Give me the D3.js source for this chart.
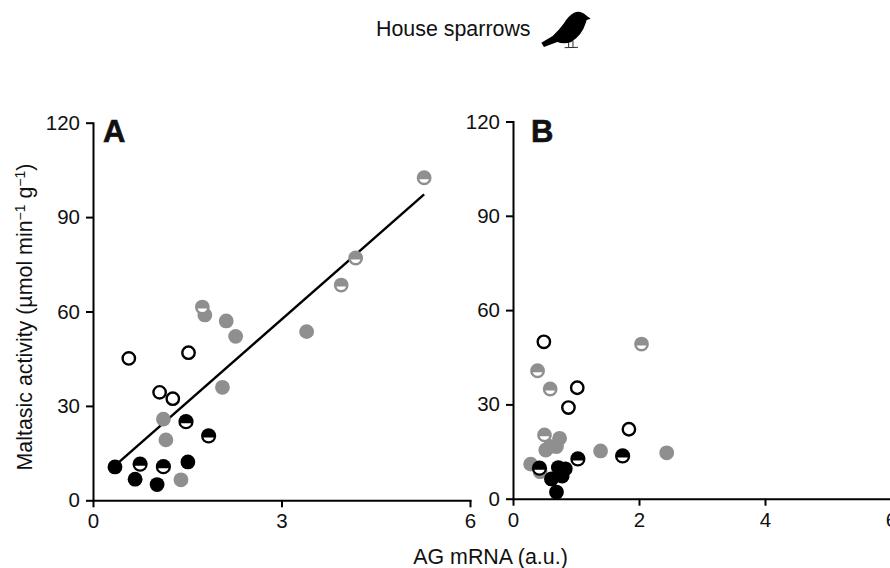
<!DOCTYPE html>
<html>
<head>
<meta charset="utf-8">
<script src="https://cdn.jsdelivr.net/npm/d3@7"></script>
<style>
  html, body { margin: 0; padding: 0; background: #fff; overflow: hidden; }
  text { font-family: "Liberation Sans", Arial, sans-serif; fill: #111; }
</style>
</head>
<body>
<svg id="chart" width="890" height="568"></svg>
<script>
// panel A
const aOpenX = [0.57, 1.52, 1.06, 1.27]
const aOpenY = [45.1, 46.9, 34.3, 32.3]
const aBlackHalfX = [1.48, 1.84, 0.75, 1.12]
const aBlackHalfY = [25.0, 20.5, 11.5, 10.7]
const aBlackX = [0.35, 0.67, 1.02, 1.51]
const aBlackY = [10.6, 6.7, 5.0, 12.2]
const aGreyX = [2.06, 1.12, 1.16, 1.40, 1.78, 2.12, 2.27, 3.40]
const aGreyY = [35.9, 25.8, 19.2, 6.5, 58.9, 57.0, 52.1, 53.6]
const aGreyHalfX = [5.27, 4.18, 3.95, 1.74]
const aGreyHalfY = [102.5, 77.0, 68.4, 61.4]
const aLineX = [0.35, 5.27]
const aLineY = [11.0, 97.2]

// panel B
const bOpenX = [0.49, 1.02, 0.88, 1.84]
const bOpenY = [49.9, 35.3, 29.0, 22.1]
const bBlackHalfX = [0.42, 1.03, 1.74]
const bBlackHalfY = [9.7, 12.7, 13.6]
const bBlackX = [0.69, 0.61, 0.72, 0.83, 0.78]
const bBlackY = [2.1, 6.3, 9.9, 9.5, 7.2]
const bGreyX = [0.74, 0.69, 0.52, 0.59, 0.28, 1.39, 2.44, 0.43]
const bGreyY = [19.2, 16.6, 15.5, 16.6, 11.0, 15.2, 14.6, 8.6]
const bGreyHalfX = [0.39, 0.59, 2.04, 0.50]
const bGreyHalfY = [40.7, 34.9, 49.2, 20.3]

const yTicks = [0, 30, 60, 90, 120]
const aXTicks = [0, 3, 6]
const bXTicks = [0, 2, 4, 6]

const grey = "#8f8f8f"
const fontSize = 20.5
const labelSize = 21.4

const svg = d3.select("#chart")

function zip(xs, ys) {
    return xs.map((x, i) => [x, ys[i]])
}

// white segment at the bottom of the half filled markers
function chord(r) {
    const a = 0.3
    const p = d3.path()
    p.arc(0, 0, r, a, Math.PI - a)
    p.closePath()
    return p.toString()
}

function drawPanel(opts) {
    const g = svg.append("g")
    const x = d3.scaleLinear().domain([0, 6]).range(opts.xRange)
    const y = d3.scaleLinear().domain([0, 120]).range(opts.yRange)

    //axes
    const xAxis = g.append("g")
        .attr("transform", "translate(0," + opts.yRange[0] + ")")
        .call(d3.axisBottom(x).tickValues(opts.xTicks).tickFormat(d3.format("d")).tickSize(7).tickSizeOuter(0))
    const yAxis = g.append("g")
        .attr("transform", "translate(" + opts.xRange[0] + ",0)")
        .call(d3.axisLeft(y).tickValues(yTicks).tickFormat(d3.format("d")).tickSize(7).tickSizeOuter(0))
    g.selectAll(".domain, .tick line").attr("stroke", "#000").attr("stroke-width", 2)
    g.selectAll(".domain").attr("stroke-linecap", "square")
    xAxis.selectAll("text").attr("font-size", fontSize).attr("font-family", null).attr("y", 13.5)
    yAxis.selectAll("text").attr("font-size", fontSize).attr("font-family", null).attr("x", -13)

    //fit line
    if (opts.line) {
        g.append("path")
            .datum(opts.line)
            .attr("fill", "none")
            .attr("stroke", "#000")
            .attr("stroke-width", 2.4)
            .attr("d", d3.line().x(d => x(d[0])).y(d => y(d[1])))
    }

    const pos = d => "translate(" + x(d[0]) + "," + y(d[1]) + ")"

    opts.grey.forEach(d => {
        g.append("circle").attr("transform", pos(d)).attr("r", 7.4).attr("fill", grey)
    })
    opts.greyHalf.forEach(d => {
        const m = g.append("g").attr("transform", pos(d))
        m.append("circle").attr("r", 7.4).attr("fill", grey)
        m.append("path").attr("d", chord(5)).attr("fill", "#fff")
    })
    opts.open.forEach(d => {
        g.append("circle").attr("transform", pos(d)).attr("r", 6.2)
            .attr("fill", "#fff").attr("stroke", "#000").attr("stroke-width", 2.4)
    })
    opts.blackHalf.forEach(d => {
        const m = g.append("g").attr("transform", pos(d))
        m.append("circle").attr("r", 7.6).attr("fill", "#000")
        m.append("path").attr("d", chord(5.4)).attr("fill", "#fff")
    })
    opts.black.forEach(d => {
        g.append("circle").attr("transform", pos(d)).attr("r", 7.4).attr("fill", "#000")
    })

    g.append("text")
        .attr("x", opts.xRange[0] + opts.letterDx)
        .attr("y", 142)
        .attr("font-size", 31)
        .attr("font-weight", "bold")
        .attr("stroke", "#111")
        .attr("stroke-width", 0.6)
        .text(opts.letter)
}

drawPanel({
    letter: "A", letterDx: 10,
    xRange: [93, 470], yRange: [500.3, 122.7], xTicks: aXTicks,
    line: zip(aLineX, aLineY),
    grey: zip(aGreyX, aGreyY), greyHalf: zip(aGreyHalfX, aGreyHalfY),
    open: zip(aOpenX, aOpenY), blackHalf: zip(aBlackHalfX, aBlackHalfY), black: zip(aBlackX, aBlackY)
})

drawPanel({
    letter: "B", letterDx: 18,
    xRange: [513, 891], yRange: [498.7, 121.5], xTicks: bXTicks,
    grey: zip(bGreyX, bGreyY), greyHalf: zip(bGreyHalfX, bGreyHalfY),
    open: zip(bOpenX, bOpenY), blackHalf: zip(bBlackHalfX, bBlackHalfY), black: zip(bBlackX, bBlackY)
})

//title and labels
svg.append("text").attr("x", 376).attr("y", 36).attr("font-size", labelSize).text("House sparrows")

svg.append("text").attr("x", 490.5).attr("y", 564).attr("text-anchor", "middle")
    .attr("font-size", labelSize).text("AG mRNA (a.u.)")

const yLabel = svg.append("text")
    .attr("transform", "translate(32,317) rotate(-90)")
    .attr("text-anchor", "middle")
    .attr("font-size", labelSize)
yLabel.append("tspan").text("Maltasic activity (\u00b5mol min")
yLabel.append("tspan").attr("dy", -7).attr("font-size", 14).text("\u22121")
yLabel.append("tspan").attr("dy", 7).text(" g")
yLabel.append("tspan").attr("dy", -7).attr("font-size", 14).text("\u22121")
yLabel.append("tspan").attr("dy", 7).text(")")

//bird icon
const bird = svg.append("g").attr("transform", "translate(340,0) scale(0.3333)")
bird.append("path")
    .attr("fill", "#000")
    .attr("d", "M604,128 L612,141 L652,126 Q672,134 694,126 Q726,106 737,70 L740,60 L752,56 L738,46 Q722,30 702,38 Q684,48 672,70 Q656,92 638,108 Z")
bird.append("path")
    .attr("fill", "none")
    .attr("stroke", "#000")
    .attr("stroke-width", 2.5)
    .attr("d", "M686,124 L686,141 M699,122 L699,141 M674,143 L714,142")
</script>
</body>
</html>
